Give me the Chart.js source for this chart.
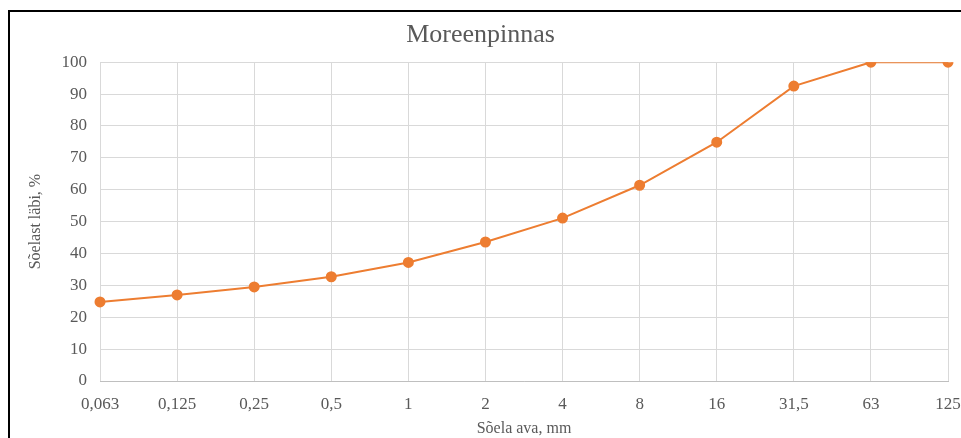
<!DOCTYPE html>
<html>
<head>
<meta charset="utf-8">
<script src="https://cdn.jsdelivr.net/npm/chart.js@4"></script>
<style>
  html, body { margin: 0; padding: 0; background: #fff; }
  #wrap { position: relative; width: 961px; height: 438px; }
  #frame {
    position: absolute; left: 8px; top: 10px; width: 970px; height: 450px;
    border: 2px solid #000; box-sizing: border-box; pointer-events: none;
  }
</style>
</head>
<body>
<div id="wrap">
  <canvas id="chart" width="961" height="438"></canvas>
  <div id="frame"></div>
</div>
<script>
const sieveSizes = ['0,063', '0,125', '0,25', '0,5', '1', '2', '4', '8', '16', '31,5', '63', '125'];
const passing = [24.8, 27.0, 29.5, 32.7, 37.2, 43.6, 51.1, 61.4, 74.9, 92.5, 100, 100];

const textColor = '#595959';
const serif = "'Liberation Serif', 'Times New Roman', serif";

new Chart(document.getElementById('chart'), {
  type: 'line',
  data: {
    labels: sieveSizes,
    datasets: [{
      data: passing,
      borderColor: '#ED7D31',
      backgroundColor: '#ED7D31',
      borderWidth: 2,
      pointRadius: 4.5,
      pointHoverRadius: 5,
      tension: 0
    }]
  },
  options: {
    responsive: false,
    animation: false,
    layout: { padding: { top: 8, right: 0, bottom: 0, left: 0 } },
    plugins: {
      legend: { display: false },
      tooltip: { enabled: false },
      title: {
        display: true,
        text: 'Moreenpinnas',
        color: textColor,
        font: { family: serif, size: 26, weight: 'normal' },
        padding: { top: 12, bottom: 11 }
      }
    },
    scales: {
      x: {
        offset: false,
        grid: { color: '#d9d9d9', drawTicks: false },
        border: { color: '#bfbfbf' },
        ticks: {
          color: textColor, padding: 13, maxRotation: 0, autoSkip: false,
          font: { family: serif, size: 17 }
        },
        title: {
          display: true, text: 'Sõela ava, mm', color: textColor,
          font: { family: serif, size: 16 }, padding: { top: 1, bottom: 0 }
        },
        afterFit: s => { s.height = 57; s.paddingRight = 13; s.paddingLeft = 0; }
      },
      y: {
        min: 0, max: 100,
        grid: { color: '#d9d9d9', drawTicks: false },
        border: { display: false },
        ticks: {
          stepSize: 10, color: textColor, padding: 13,
          font: { family: serif, size: 17 }
        },
        title: {
          display: true, text: 'Sõelast läbi, %', color: textColor,
          font: { family: serif, size: 16 }, padding: { top: 26, bottom: 0 }
        },
        afterFit: s => { s.width = 100; }
      }
    }
  }
});
</script>
</body>
</html>
